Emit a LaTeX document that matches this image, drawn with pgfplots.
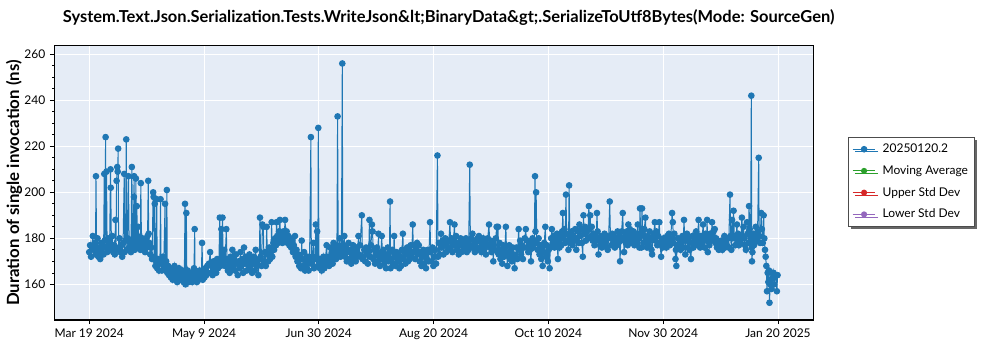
\documentclass[border=0pt]{standalone}
\usepackage{fontspec}
\setmainfont{Lato}
\usepackage{pgfplots}
\pgfplotsset{compat=1.18}
\usetikzlibrary{shadows}
\definecolor{bg}{RGB}{229,236,246}
\definecolor{c1}{RGB}{31,119,180}
\definecolor{c2}{RGB}{44,160,44}
\definecolor{c3}{RGB}{214,39,40}
\definecolor{c4}{RGB}{148,103,189}
\begin{document}
\begin{tikzpicture}
\path[use as bounding box] (0,0) rectangle (750pt,262.5pt);
\node[font=\bfseries\fontsize{12.35}{14}\selectfont] at (336.4pt,249pt) {System.Text.Json.Serialization.Tests.WriteJson\&lt;BinaryData\&gt;.SerializeToUtf8Bytes(Mode: SourceGen)};
\node[rotate=90, font=\bfseries\fontsize{12.6}{14}\selectfont] at (10.5pt,125.25pt) {Duration of single invocation (ns)};
\begin{axis}[
 at={(40.5pt,22.5pt)}, anchor=south west, scale only axis,
 width=569.25pt, height=205.5pt,
 xmin=-15.7, xmax=322.6, ymin=144.5, ymax=263.6,
 axis background/.style={fill=bg},
 grid=major, major grid style={white, line width=0.75pt},
 xtick={0,51.17,102.33,153.5,204.67,255.83,307},
 xticklabels={Mar 19 2024, May 9 2024, Jun 30 2024, Aug 20 2024, Oct 10 2024, Nov 30 2024, Jan 20 2025},
 ytick={160,180,...,260},
 minor y tick num=3,
 tick align=outside,
 xtick pos=bottom, ytick pos=left,
 major tick length=3pt, minor tick length=1.5pt,
 tick style={black, line width=0.5pt},
 tick label style={font=\fontsize{9}{10}\selectfont},
 /pgf/number format/assume math mode=true,
 axis line style={black, line width=0.75pt},
 legend style={at={(1.046,0.668)}, anchor=north west, draw=black!70, fill=white,
   font=\fontsize{9}{10}\selectfont, row sep=4.2pt, inner sep=3pt,
   /tikz/every odd column/.append style={column sep=3pt},
   drop shadow={shadow xshift=2pt, shadow yshift=-2pt, fill=black!60, opacity=1}},
 legend cell align=left,
]
\addplot[c1, line width=0.75pt, mark=*, mark size=2.1pt, mark options={fill=c1, draw=none}] coordinates {
(0,174) (0.4,177) (0.8,172) (1.2,176) (1.6,181) (2.0,175) (2.4,178) (2.8,173) (3.0,207) (3.3,175) (3.7,180) (4.1,172) (4.5,176) (4.9,171) (5.3,178) (5.7,174) (6.1,177) (6.4,173) (6.7,208) (6.9,179) (7.3,224) (7.5,176) (7.7,209) (8.0,174) (8.4,180) (8.8,175) (9.1,178) (9.5,210) (9.6,202) (9.9,176) (10.3,181) (10.7,174) (11.1,177) (11.4,173) (11.7,188) (11.9,175) (12.2,205) (12.5,211) (12.7,209) (12.9,219) (13.1,176) (13.5,180) (13.9,174) (14.3,177) (14.7,172) (15.1,178) (15.6,208) (15.8,174) (16.2,179) (16.5,223) (16.8,175) (17.1,180) (17.5,207) (17.8,176) (18.2,178) (18.6,174) (19.0,211) (19.3,177) (19.6,180) (19.9,198) (20.0,207) (20.3,175) (20.6,179) (20.8,206) (21.0,176) (21.2,194) (21.5,181) (21.8,185) (22.1,177) (22.5,179) (22.8,175) (23.0,204) (23.3,177) (23.7,180) (24.1,175) (24.5,178) (24.9,174) (25.3,179) (25.7,176) (26.0,181) (26.3,205) (26.5,182) (26.8,178) (27.2,173) (27.6,176) (28.0,171) (28.5,200) (28.7,198) (29.0,172) (29.2,195) (29.5,168) (29.8,170) (30.1,197) (30.3,167) (30.7,171) (31.1,166) (31.5,169) (31.8,197) (32.0,170) (32.4,166) (32.8,172) (33.2,168) (33.8,195) (34.0,167) (34.3,170) (34.6,201) (34.8,165) (35.2,168)
(35.6,164) (36.0,167) (36.4,163) (36.8,166) (37.2,162) (37.6,165) (38.0,168) (38.4,163) (38.8,166) (39.2,161) (39.6,164) (40.0,167) (40.4,162) (40.8,165) (41.2,163) (41.6,166) (42.0,161) (42.4,164) (42.7,195) (42.9,160) (43.3,191) (43.5,163) (43.9,166) (44.3,161) (44.7,164) (45.1,162) (45.5,165) (45.9,161) (46.3,164) (46.7,167) (47.0,184) (47.2,162) (47.6,165) (48.0,161) (48.4,164) (48.8,162) (49.2,166) (49.6,163) (50.0,165) (50.3,178) (50.6,162) (51.0,166) (51.4,163) (51.8,167) (52.2,164) (52.6,168) (53.0,165) (53.4,169) (53.9,174) (54.2,165) (54.6,168) (55.0,164) (55.4,170) (55.8,166) (56.2,169) (56.6,165) (57.0,171) (57.4,167) (57.8,170) (58.2,189) (58.5,168) (58.9,184) (59.1,172) (59.4,189) (59.7,170) (60.1,175) (60.5,168) (61.1,184) (61.4,171) (61.8,166)
(62.2,170) (62.6,165) (63.0,172) (63.4,168) (63.8,175) (64.2,167) (64.6,171) (65.0,166) (65.4,173) (65.8,169) (66.2,164) (66.6,170) (67.0,167) (67.4,174) (67.8,168) (68.2,171) (68.6,165) (69.0,176) (69.4,169) (69.8,172) (70.2,166) (70.6,170) (71.0,168) (71.4,173) (71.8,167) (72.2,171) (72.6,165) (73.0,169) (73.4,172) (73.8,166) (74.2,175) (74.6,168) (75.0,170) (75.4,164) (75.8,171) (76.1,189) (76.4,172) (76.8,168) (77.2,186) (77.6,185) (77.9,170) (78.3,174) (78.7,168) (79.1,185) (79.4,173) (79.8,170) (80.2,176) (80.6,171) (81.0,174) (81.3,187) (81.6,172) (82.1,178) (82.4,175)
(82.8,180) (83.2,177) (83.5,187) (83.8,181) (84.2,178) (84.6,183) (85.0,188) (85.3,180) (85.7,182) (86.1,178) (86.5,183) (86.9,181) (87.3,188) (87.6,180) (88.0,183) (88.4,178) (88.8,181) (89.2,177) (89.6,180) (90.0,176) (90.4,179) (90.8,174) (91.2,177) (91.7,181) (92.0,172) (92.4,175) (92.8,170) (93.2,173) (93.6,168) (94.0,172) (94.4,167) (94.7,179) (95.0,171) (95.4,168) (95.8,174) (96.2,166) (96.6,170) (97.0,167) (97.4,172) (97.8,166) (98.2,170) (98.8,224) (99.0,169) (99.4,172) (99.9,178) (100.2,167) (100.6,171) (101.0,186) (101.3,172) (101.6,183) (101.9,168) (102.1,228) (102.4,170) (102.8,167) (103.2,171) (103.6,166) (104.0,169) (104.4,172) (104.8,167) (105.2,170) (105.8,177) (106.1,169) (106.5,172) (106.9,168) (107.3,176) (107.7,170) (108.1,174) (108.5,169) (108.9,178) (109.2,172) (109.5,177) (110.0,171) (110.4,175) (110.7,233) (111.0,173) (111.4,176) (111.7,180) (112.0,172) (112.4,175) (112.8,256) (113.0,174) (113.4,177) (113.7,181) (114.0,172) (114.4,176) (114.8,170) (115.2,174) (115.6,178) (116.0,171) (116.4,175) (116.8,169) (117.2,173) (117.6,177) (118.0,171) (118.4,174) (118.8,170) (119.2,176) (119.6,172) (120.0,181) (120.3,173) (120.7,177) (121.5,190) (121.8,171)
(122.2,172) (122.6,175) (123.0,170) (123.4,176) (123.8,173) (124.2,169) (124.6,174) (124.9,188) (125.2,172) (125.6,177) (126.0,186) (126.3,183) (126.6,171) (127.0,175) (127.4,169) (127.8,173) (128.2,176) (128.6,170) (128.9,182) (129.2,172) (129.6,168) (130.0,174) (130.4,181) (130.7,171) (131.1,175) (131.5,169) (131.9,173) (132.3,167) (132.7,172) (133.1,176) (133.5,170) (133.8,174) (134.1,196) (134.3,167) (134.7,171) (135.1,175) (135.5,169) (135.9,181) (136.2,172) (136.6,168) (137.0,174) (137.4,170) (137.8,173) (138.2,167) (138.6,172) (139.0,168) (139.4,175) (139.8,182) (140.1,171) (140.5,174) (140.9,169) (141.3,173) (141.7,176) (142.1,170) (142.5,174) (142.9,171) (143.3,177) (143.7,172) (144.2,186) (144.5,174) (144.9,177) (145.3,171) (145.7,175) (146.1,178) (146.5,173) (146.9,177) (147.3,170) (147.7,174) (148.1,168) (148.5,172) (148.9,175) (149.3,169) (149.7,173) (150.1,167) (150.5,171) (150.9,175) (151.3,170) (151.9,187) (152.2,174) (152.6,170) (153.0,176) (153.4,168) (153.8,172) (154.2,175) (154.6,169) (155.2,216) (155.5,172) (155.9,178) (156.3,173) (156.8,182) (157.1,176) (157.5,179) (157.9,173) (158.3,177) (158.7,180) (159.1,174) (159.5,178) (159.9,175) (160.3,179) (160.8,187) (161.1,176) (161.5,180) (161.9,174) (162.3,178) (162.8,186) (163.1,177) (163.5,181) (163.9,175) (164.3,178) (164.7,173) (165.1,177) (165.5,180) (165.9,174) (166.3,178) (166.7,175) (167.1,179) (167.5,176) (167.9,180) (168.3,174) (168.7,178) (169.1,175) (169.6,212) (169.9,177) (170.3,180) (170.8,182) (171.1,176) (171.5,179) (171.9,174) (172.3,178) (172.7,175) (173.1,180) (173.7,181) (174.0,176) (174.4,179) (174.8,174) (175.2,177) (175.6,180) (176.0,175) (176.4,178) (176.8,173) (177.2,177) (177.6,180) (178.2,186) (178.5,176) (178.9,179) (179.3,174) (179.7,178) (180.1,170) (180.4,177) (180.8,175) (181.2,180) (181.6,185) (182.0,174)
(182.2,185) (182.5,173) (182.9,178) (183.3,171) (183.7,175) (184.1,169) (184.5,177) (184.9,172) (185.3,176) (185.7,185) (186.0,174) (186.4,168) (186.8,173) (187.2,177) (187.6,171) (188.0,175) (188.4,170) (188.8,176) (189.2,173) (189.6,167) (190.0,172) (190.4,176) (190.8,171) (191.4,184) (191.7,175) (192.1,179) (192.5,173) (192.9,177) (193.3,171) (193.7,176) (194.1,180) (194.6,184) (194.9,176) (195.3,179) (195.7,174) (196.1,178) (196.5,175) (196.9,170) (197.2,177) (197.6,180) (198.0,176) (198.4,179) (198.7,207) (198.9,183) (199.2,200) (199.5,178) (199.9,175) (200.3,180) (200.7,173) (201.1,177) (201.5,171) (201.9,176) (202.1,168) (202.4,174) (202.8,178) (203.3,185) (203.6,172) (204.0,177) (204.4,170) (204.8,175) (205.2,167) (205.5,176) (205.9,180) (206.2,184) (206.6,178) (207.0,181) (207.4,176) (207.8,180) (208.2,177) (208.5,182) (208.9,171) (209.2,179) (209.6,176) (210.0,181) (210.4,177) (210.8,183) (211.1,191) (211.4,180) (211.8,184) (212.1,178) (212.5,199) (212.8,182) (213.2,179) (213.6,175) (213.9,203) (214.2,181) (214.6,178) (215.0,183) (215.4,177) (215.8,181) (216.2,179) (216.6,184) (217.1,175) (217.4,180) (217.8,183) (218.2,178) (218.5,186) (218.8,181) (219.2,184) (219.6,178) (220.0,172) (220.3,190) (220.6,182) (221.0,185) (221.4,179) (221.8,183) (222.2,180) (222.7,194) (223.0,184) (223.3,190) (223.6,181) (224.0,185) (224.4,179) (224.8,182) (225.2,177) (225.6,181) (226.0,179) (226.3,191) (226.6,183) (227.0,173) (227.3,180) (227.7,177) (228.1,181) (228.5,176) (228.9,180) (229.3,177) (229.7,182) (230.1,178) (230.5,181) (230.8,176) (231.1,175) (231.5,180) (232.0,196) (232.3,181) (232.7,177) (233.1,182) (233.5,178) (233.9,181) (234.3,176) (234.7,180) (235.1,177) (235.5,183) (235.9,178) (236.3,181) (236.6,170) (236.9,179) (237.3,183) (237.8,191) (238.1,180) (238.4,174) (238.8,181) (239.2,178) (239.6,183) (240.0,177) (240.3,186) (240.6,180) (241.0,184) (241.4,178) (241.8,182) (242.2,179) (242.6,183) (243.0,177) (243.4,181) (243.8,178) (244.2,182) (244.5,186) (244.9,180) (245.2,176) (245.5,193)
(245.8,181) (246.1,176) (246.4,193) (246.7,182) (247.0,178) (247.4,184) (247.9,189) (248.2,180) (248.6,176) (249.0,181) (249.4,177) (249.8,183) (250.2,179) (250.6,175) (250.9,173) (251.2,180) (251.6,182) (252.1,187) (252.4,179) (252.8,183) (253.2,177) (253.6,181) (254.1,187) (254.4,178) (254.9,172) (255.2,179) (255.6,176) (256.0,180) (256.4,177) (256.8,179) (257.2,176) (257.6,181) (258.0,178) (258.4,182) (258.8,177) (259.2,180) (259.8,191) (260.1,187) (260.4,178) (260.8,182) (261.3,171) (261.5,175) (261.7,168) (262.0,177) (262.4,180) (262.8,176) (263.2,179) (263.6,175) (264.0,178) (264.4,181) (264.7,176) (265.1,188) (265.4,180) (265.7,173) (266.0,179) (266.4,182) (266.8,176) (267.2,180) (267.6,175) (268.2,171) (268.5,178) (268.9,181) (269.3,176) (269.7,180) (270.1,177) (270.5,183) (270.9,178) (271.2,181) (271.6,188) (271.9,180) (272.3,176) (272.7,181) (273.1,178) (273.6,186) (273.9,180) (274.3,176) (274.7,182) (275.1,179) (275.4,188) (275.7,174) (276.0,180) (276.4,177) (276.8,182) (277.2,179) (277.6,187) (277.9,181) (278.3,183) (278.8,184) (279.1,178) (279.4,180) (279.8,176) (280.2,178) (280.6,175) (281.0,177) (281.4,176) (281.8,179) (282.2,175) (282.6,178) (283.1,181) (283.4,176) (283.8,179) (284.2,177) (284.6,180) (285.0,176) (285.6,199) (285.9,181) (286.2,175) (286.5,188) (286.8,180) (287.2,192) (287.5,181) (287.9,177) (288.3,180) (288.7,186) (289.0,178) (289.2,182) (289.6,177) (290.0,180) (290.4,178) (290.9,189) (291.2,181) (291.6,185) (292.0,180) (292.3,177) (292.7,175) (293.2,187) (293.5,182) (293.8,178) (294.1,194) (294.4,184) (294.8,180) (295.1,242) (295.3,176) (295.4,170) (295.6,174) (295.9,182) (296.3,177) (296.7,180) (297.1,185) (297.5,179) (297.9,183) (298.4,215) (298.6,181) (299.0,178) (299.5,191) (299.8,184) (300.2,178) (300.6,190) (300.9,180) (301.2,175) (301.5,172) (301.8,168) (302.1,157) (302.4,165) (302.7,161) (303.0,166) (303.2,152) (303.5,160) (303.8,162) (304.1,158) (304.4,165) (304.7,163) (305.0,165) (305.3,160) (305.6,163) (306.0,164) (306.5,157) (306.8,164)
};
\addlegendentry{20250120.2}
\addlegendimage{c2, line width=0.75pt, mark=*, mark size=1.9pt, mark options={fill=c2, draw=none}}
\addlegendentry{Moving Average}
\addlegendimage{c3, line width=0.75pt, mark=*, mark size=1.9pt, mark options={fill=c3, draw=none}}
\addlegendentry{Upper Std Dev}
\addlegendimage{c4, line width=0.75pt, mark=*, mark size=1.9pt, mark options={fill=c4, draw=none}}
\addlegendentry{Lower Std Dev}
\end{axis}
\end{tikzpicture}
\end{document}
